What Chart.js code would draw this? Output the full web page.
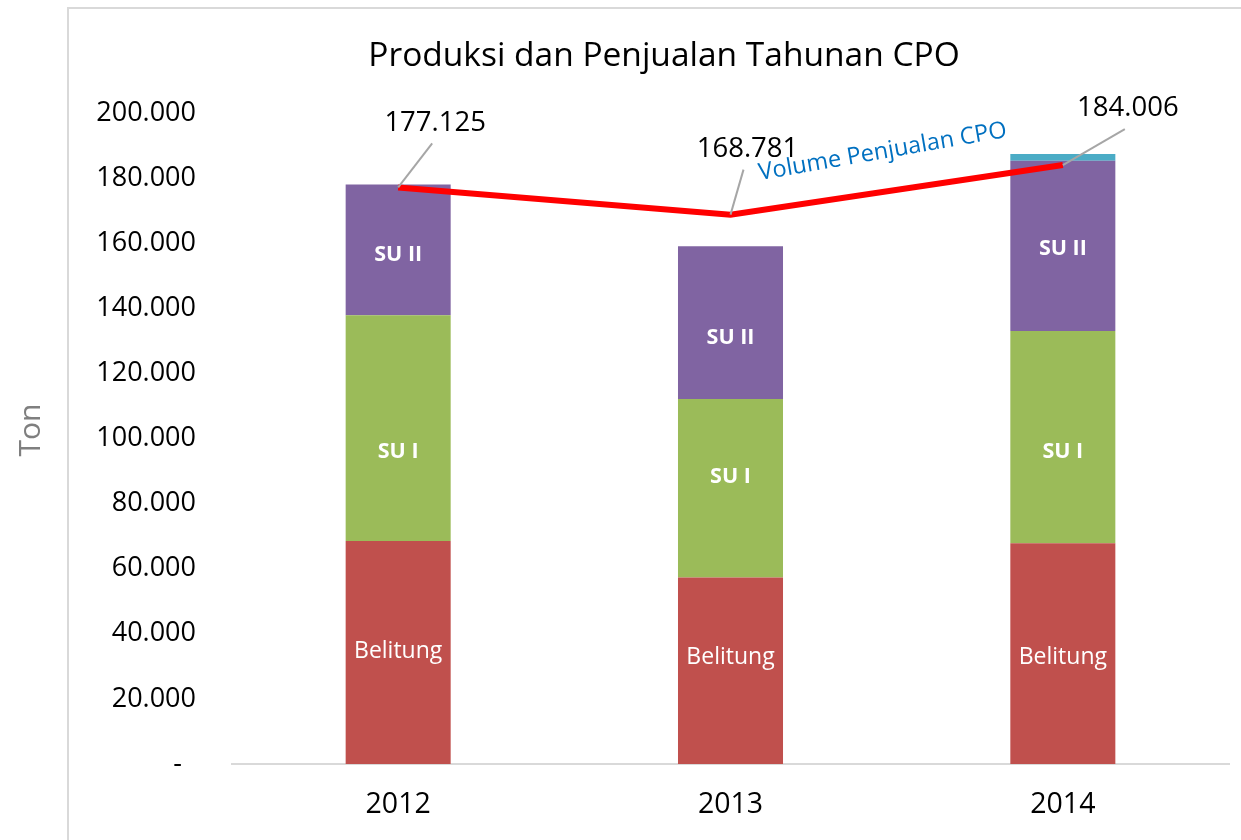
<!DOCTYPE html>
<html>
<head>
<meta charset="utf-8">
<script src="https://cdn.jsdelivr.net/npm/chart.js@4/dist/chart.umd.min.js"></script>
<style>
  html, body { margin: 0; padding: 0; background: #ffffff; overflow: hidden; }
  #wrap { position: absolute; left: 0; top: 0; width: 1241px; height: 840px; }
</style>
</head>
<body>
<div id="wrap"><canvas id="c" width="1241" height="840"></canvas></div>
<script>
// ---- data ----
const categories = ['2012', '2013', '2014'];
const belitung = [68500, 57300, 67800];
const suI = [69400, 54800, 65200];
const suII = [40100, 47000, 52300];
const lainnya = [0, 0, 2100];
const penjualan = [177125, 168781, 184006];
const yTicks = [0, 20000, 40000, 60000, 80000, 100000, 120000, 140000, 160000, 180000, 200000];

const FONT = "'Open Sans', 'Liberation Sans', sans-serif";

function fmt(v) {
  if (v === 0) return '-  ';
  return v.toString().replace(/\B(?=(\d{3})+(?!\d))/g, '.');
}

const framePlugin = {
  id: 'frame',
  beforeDraw(chart) {
    const ctx = chart.ctx;
    ctx.save();
    ctx.fillStyle = '#ffffff';
    ctx.fillRect(0, 0, chart.width, chart.height);
    ctx.strokeStyle = '#d9d9d9';
    ctx.lineWidth = 2;
    ctx.beginPath();
    ctx.moveTo(68, 840);
    ctx.lineTo(68, 8);
    ctx.lineTo(1241, 8);
    ctx.stroke();
    // title
    ctx.fillStyle = '#000000';
    ctx.font = "33.5px " + FONT;
    ctx.textAlign = 'center';
    ctx.textBaseline = 'middle';
    ctx.fillText('Produksi dan Penjualan Tahunan CPO', 664, 56);
    // axis title
    ctx.translate(31, 430);
    ctx.rotate(-Math.PI / 2);
    ctx.fillStyle = '#7f7f7f';
    ctx.font = "30px " + FONT;
    ctx.fillText('Ton', 0, 0);
    ctx.restore();
  }
};

const barLabelPlugin = {
  id: 'barLabels',
  afterDatasetsDraw(chart, args, opts) {
    const ctx = chart.ctx;
    ctx.save();
    ctx.textAlign = 'center';
    ctx.textBaseline = 'middle';
    ctx.fillStyle = '#ffffff';
    opts.sets.forEach(s => {
      const meta = chart.getDatasetMeta(s.index);
      ctx.font = (s.bold ? 'bold 21.5px ' : '23px ') + FONT;
      meta.data.forEach((el, i) => {
        const mid = (el.y + el.base) / 2;
        ctx.fillText(s.text, el.x, mid + s.dy[i]);
      });
    });
    ctx.restore();
  }
};

const lineLabelPlugin = {
  id: 'lineLabels',
  afterDatasetsDraw(chart, args, opts) {
    const ctx = chart.ctx;
    const meta = chart.getDatasetMeta(opts.index);
    ctx.save();
    meta.data.forEach((pt, i) => {
      const o = opts.offsets[i];
      ctx.strokeStyle = '#a6a6a6';
      ctx.lineWidth = 2;
      ctx.beginPath();
      ctx.moveTo(pt.x, pt.y);
      ctx.lineTo(pt.x + o.lx, pt.y + o.ly);
      ctx.stroke();
      ctx.fillStyle = '#000000';
      ctx.font = '27.5px ' + FONT;
      ctx.textAlign = 'center';
      ctx.textBaseline = 'middle';
      ctx.fillText(fmt(chart.data.datasets[opts.index].data[i]), pt.x + o.tx, pt.y + o.ty);
    });
    // series name along the line
    const a = meta.data[1], b = meta.data[2];
    const ang = Math.atan2(b.y - a.y, b.x - a.x) - 0.025;
    ctx.translate((a.x + b.x) / 2 - 14, (a.y + b.y) / 2 - 38);
    ctx.rotate(ang);
    ctx.fillStyle = '#0070c0';
    ctx.font = '23.5px ' + FONT;
    ctx.textAlign = 'center';
    ctx.textBaseline = 'middle';
    ctx.fillText(chart.data.datasets[opts.index].label, 0, 0);
    ctx.restore();
  }
};

new Chart(document.getElementById('c'), {
  type: 'bar',
  data: {
    labels: categories,
    datasets: [
      { type: 'line', label: 'Volume Penjualan CPO', data: penjualan, borderColor: '#ff0000', borderWidth: 6, pointRadius: 0, fill: false, tension: 0, order: 0, stack: 'line' },
      { label: 'Belitung', data: belitung, backgroundColor: '#c0504d', stack: 's', order: 1 },
      { label: 'SU I', data: suI, backgroundColor: '#9bbb59', stack: 's', order: 1 },
      { label: 'SU II', data: suII, backgroundColor: '#8064a2', stack: 's', order: 1 },
      { label: 'Lainnya', data: lainnya, backgroundColor: '#4bacc6', stack: 's', order: 1 }
    ]
  },
  options: {
    responsive: false,
    animation: false,
    layout: { padding: { left: 0, right: 12, top: 113, bottom: 0 } },
    datasets: { bar: { categoryPercentage: 1, barPercentage: 0.316, borderWidth: 0 } },
    plugins: {
      legend: { display: false },
      title: { display: false },
      tooltip: { enabled: false },
      barLabels: {
        sets: [
          { index: 1, text: 'Belitung', bold: false, dy: [-1, -13, 4] },
          { index: 2, text: 'SU I', bold: true, dy: [24, -11, 15] },
          { index: 3, text: 'SU II', bold: true, dy: [5, 15, 3] }
        ]
      },
      lineLabels: {
        index: 0,
        offsets: [
          { lx: 34, ly: -44, tx: 37, ty: -64 },
          { lx: 13, ly: -45, tx: 17, ty: -65 },
          { lx: 62, ly: -36, tx: 65, ty: -57 }
        ]
      }
    },
    scales: {
      x: {
        stacked: true,
        grid: { display: false, drawTicks: false },
        border: { display: true, color: '#d9d9d9', width: 2 },
        ticks: { color: '#000000', font: { family: FONT, size: 28.5 }, padding: 24 },
        afterFit(s) { s.height = 76; }
      },
      y: {
        stacked: true,
        min: 0,
        max: 200000,
        afterBuildTicks(s) { s.ticks = yTicks.map(v => ({ value: v })); },
        grid: { display: false, drawTicks: false },
        border: { display: false },
        ticks: { color: '#000000', font: { family: FONT, size: 27 }, padding: 36, callback: v => fmt(v) },
        title: { display: false },
        afterFit(s) { s.width = 232; }
      }
    }
  },
  plugins: [framePlugin, barLabelPlugin, lineLabelPlugin]
});
</script>
</body>
</html>
